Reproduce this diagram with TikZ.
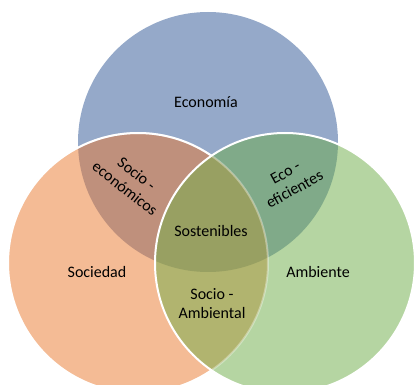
\documentclass[tikz,border=0pt]{standalone}
\usepackage{fontspec}
\setmainfont{Carlito}
\usepackage{xcolor}
\usepackage{tikz}

\definecolor{econblue}{HTML}{95A9C9}
\definecolor{socorange}{HTML}{F4BB95}
\definecolor{ambgreen}{HTML}{B5D5A2}
\definecolor{socecon}{HTML}{BF907C}
\definecolor{econamb}{HTML}{80AA89}
\definecolor{socamb}{HTML}{B1B46F}
\definecolor{allthree}{HTML}{98A062}

\begin{document}
\begin{tikzpicture}[x=0.75pt, y=-0.75pt,
        vtext/.style={font=\fontsize{12}{14.25}\selectfont, text=black, align=center, inner sep=0pt},
        rim/.style={white, line width=1.5pt}]
        \useasboundingbox (0,0) rectangle (415,385);
        \clip (0,0) rectangle (415,385);
        \def\rad{97.5pt}
        \coordinate (econ) at (208,142);
        \coordinate (soc) at (138,263);
        \coordinate (amb) at (285,263);
        % the three sets
        \fill[econblue] (econ) circle (\rad);
        \fill[socorange] (soc) circle (\rad);
        \fill[ambgreen] (amb) circle (\rad);
        % overlaps
        \begin{scope}
            \clip (econ) circle (\rad);
            \fill[econamb] (amb) circle (\rad);
        \end{scope}
        \begin{scope}
            \clip (soc) circle (\rad);
            \fill[socecon] (econ) circle (\rad);
            \fill[socamb] (amb) circle (\rad);
            \clip (amb) circle (\rad);
            \fill[allthree] (econ) circle (\rad);
        \end{scope}
        % white rims
        \draw[rim, opacity=0.35] (soc) circle (\rad);
        \begin{scope}[even odd rule]
            \clip (-10,-10) rectangle (425,395) (amb) circle (\rad);
            \draw[rim] (soc) circle (\rad);
        \end{scope}
        \draw[rim] (amb) circle (\rad);
        % labels
        \node[vtext] (economia) at (206,102) {Economía};
        \node[vtext] (sociedad) at (97,272) {Sociedad};
        \node[vtext] (ambiente) at (318,272) {Ambiente};
        \node[vtext] (sostenibles) at (211,231) {Sostenibles};
        \node[vtext] (socioamb) at (212,304) {Socio -\\Ambiental};
        \node[vtext, rotate=-38] (socioecon) at (131,181) {Socio -\\económicos};
        \node[vtext, rotate=29] (ecoefic) at (290,181) {Eco -\\eficientes};
    \end{tikzpicture}
\end{document}
